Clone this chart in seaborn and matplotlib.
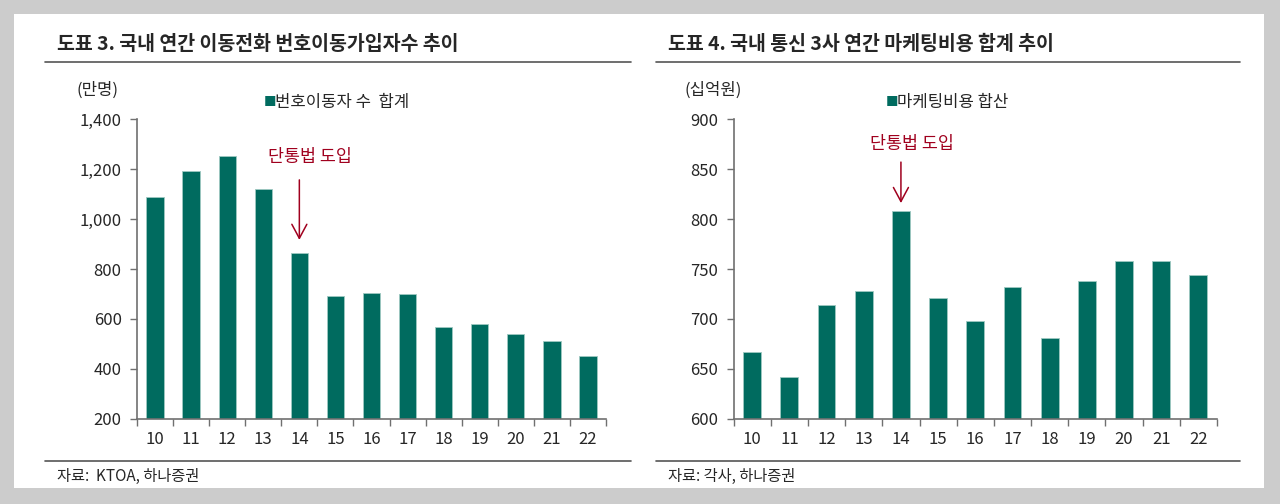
import matplotlib
matplotlib.use("Agg")
import matplotlib.pyplot as plt
import seaborn as sns
from matplotlib.patches import Rectangle
from matplotlib.lines import Line2D

years = ["10", "11", "12", "13", "14", "15", "16", "17", "18", "19", "20", "21", "22"]
port_users = [1090, 1195, 1254, 1119, 866, 691, 705, 699, 567, 581, 538, 510, 453]
mkt_cost = [667, 642, 714, 728, 808, 721, 698, 732, 681, 738, 758, 758, 744]
port_ticks = [200, 400, 600, 800, 1000, 1200, 1400]
port_ticklabels = ["200", "400", "600", "800", "1,000", "1,200", "1,400"]
mkt_ticks = [600, 650, 700, 750, 800, 850, 900]

TEAL = "#006b5f"
RED = "#a0001e"
AXC = "#707070"

sns.set_theme(style="white")
plt.rcParams["font.family"] = ["Noto Sans CJK KR", "DejaVu Sans"]

W, H = 1280, 504
fig = plt.figure(figsize=(W / 100, H / 100), dpi=100, facecolor="#cccccc")


def fx(px):
    return px / W


def fy(py):
    return 1 - py / H


# white panel
fig.patches.append(Rectangle((fx(14), fy(488)), fx(1264) - fx(14), fy(14) - fy(488),
                             transform=fig.transFigure, facecolor="white", edgecolor="none", zorder=-5))


def panel(left_px, right_px, ax_left, ax_right, title, unit, unit_x, legend_x, legend_label,
          values, ticks, ticklabels, source, ann_text_y, arrow_y0, arrow_y1):
    fig.text(fx(left_px + 12), fy(44), title, fontsize=14, fontweight="bold", va="center", ha="left")
    fig.add_artist(Line2D([fx(left_px), fx(right_px)], [fy(62), fy(62)], color="#555555", lw=1.2,
                          transform=fig.transFigure))
    fig.add_artist(Line2D([fx(left_px), fx(right_px)], [fy(461), fy(461)], color="#555555", lw=1.2,
                          transform=fig.transFigure))
    fig.text(fx(left_px + 12), fy(476), source, fontsize=11, va="center", ha="left")
    fig.text(fx(unit_x), fy(90), unit, fontsize=12, va="center", ha="center")
    fig.text(fx(legend_x), fy(103), "■", color=TEAL, fontsize=9, va="center", ha="left")
    fig.text(fx(legend_x + 11), fy(103), legend_label, fontsize=12, va="center", ha="left")

    ax = fig.add_axes([fx(ax_left), fy(418.7), fx(ax_right) - fx(ax_left), fy(119.4) - fy(418.7)])
    ax.set_facecolor("none")
    ax.set_zorder(2)
    sns.barplot(x=years, y=values, color=TEAL, saturation=1, width=0.48, ax=ax,
                edgecolor="#9fc9c2", linewidth=0.6)
    ax.set_xlim(-0.5, len(years) - 0.5)
    ax.set_ylim(ticks[0], ticks[-1])
    ax.set_yticks(ticks)
    ax.set_yticklabels(ticklabels)
    ax.set_xticks(range(len(years)))
    ax.set_xticklabels(years)
    ax.set_xticks([i - 0.5 for i in range(len(years) + 1)], minor=True)
    ax.tick_params(axis="x", which="major", length=0, pad=9, labelsize=12)
    ax.tick_params(axis="x", which="minor", length=5, width=1, color=AXC, direction="out")
    ax.tick_params(axis="y", which="major", length=5, width=1, color=AXC, direction="out", pad=6,
                   labelsize=12)
    ax.tick_params(bottom=True, left=True, which="both")
    for s in ["top", "right"]:
        ax.spines[s].set_visible(False)
    for s in ["left", "bottom"]:
        ax.spines[s].set_color(AXC)
        ax.spines[s].set_linewidth(1.2)
    ax.set_xlabel("")
    ax.set_ylabel("")

    # annotation for 2014 (단통법)
    idx = years.index("14")
    ax.annotate("", xy=(idx, arrow_y1), xytext=(idx, arrow_y0),
                arrowprops=dict(arrowstyle="->, head_length=0.56, head_width=0.3", color=RED,
                                lw=1.1, mutation_scale=18, shrinkA=0, shrinkB=0))
    ax.text(idx + 0.3, ann_text_y, "단통법 도입", color=RED, fontsize=12.5, ha="center", va="center")
    return ax


# left chart
panel(45, 631, 137, 606, "도표 3. 국내 연간 이동전화 번호이동가입자수 추이", "(만명)", 98, 264,
      "번호이동자 수  합계", port_users, port_ticks, port_ticklabels, "자료:  KTOA, 하나증권",
      200 + (418.7 - 157) / 0.2493, 200 + (418.7 - 180) / 0.2493, 200 + (418.7 - 240) / 0.2493)

# right chart
panel(656, 1240, 733.6, 1217, "도표 4. 국내 통신 3사 연간 마케팅비용 합계 추이", "(십억원)", 713, 886,
      "마케팅비용 합산", mkt_cost, mkt_ticks, [str(t) for t in mkt_ticks], "자료: 각사, 하나증권",
      600 + (418.7 - 144) / 0.998, 600 + (418.7 - 162) / 0.998, 600 + (418.7 - 203) / 0.998)

fig.savefig("out.png", dpi=100, facecolor=fig.get_facecolor())
